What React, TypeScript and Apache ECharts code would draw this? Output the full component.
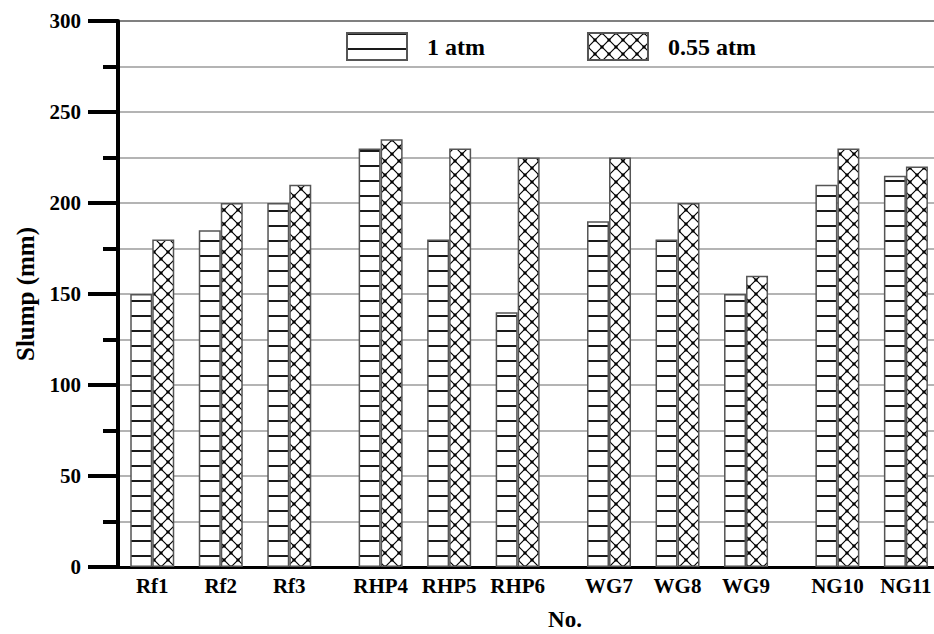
import React, { useEffect, useRef } from "react";
import * as echarts from "echarts";

// ---- data ----
const groups: string[][] = [
  ["Rf1", "Rf2", "Rf3"],
  ["RHP4", "RHP5", "RHP6"],
  ["WG7", "WG8", "WG9"],
  ["NG10", "NG11"],
];
const categories: string[] = groups.flat();
const seriesNames = ["1 atm", "0.55 atm"];
const slump1atm = [150, 185, 200, 230, 180, 140, 190, 180, 150, 210, 215];
const slump055atm = [180, 200, 210, 235, 230, 225, 225, 200, 160, 230, 220];
const yMin = 0;
const yMax = 300;
const yInterval = 50;

// ---- layout helpers ----
const GROUP_GAP = 1 / 3;
const positions: number[] = [];
(() => {
  let p = 1;
  groups.forEach((g) => {
    g.forEach(() => {
      positions.push(p);
      p += 1;
    });
    p += GROUP_GAP;
  });
})();

const FONT = "Liberation Serif";

function hLinePattern() {
  const w = 8;
  const h = 15;
  const c = document.createElement("canvas");
  c.width = w;
  c.height = h;
  const ctx = c.getContext("2d")!;
  ctx.fillStyle = "#ffffff";
  ctx.fillRect(0, 0, w, h);
  ctx.fillStyle = "#1a1a1a";
  ctx.fillRect(0, 0, w, 2);
  return { image: c, repeat: "repeat", imageWidth: w, imageHeight: h };
}

function crossPattern() {
  const s = 14;
  const c = document.createElement("canvas");
  c.width = s;
  c.height = s;
  const ctx = c.getContext("2d")!;
  ctx.fillStyle = "#ffffff";
  ctx.fillRect(0, 0, s, s);
  ctx.strokeStyle = "#000000";
  ctx.lineWidth = 1.2;
  ctx.beginPath();
  ctx.moveTo(0, 0);
  ctx.lineTo(s, s);
  ctx.moveTo(s, 0);
  ctx.lineTo(0, s);
  ctx.stroke();
  ctx.fillStyle = "#000000";
  ctx.fillRect(s / 2 - 1.5, s / 2 - 1.5, 3, 3);
  ctx.fillRect(0, 0, 1.5, 1.5);
  ctx.fillRect(s - 1.5, 0, 1.5, 1.5);
  ctx.fillRect(0, s - 1.5, 1.5, 1.5);
  ctx.fillRect(s - 1.5, s - 1.5, 1.5, 1.5);
  return { image: c, repeat: "repeat", imageWidth: s, imageHeight: s };
}

export default function App() {
  const ref = useRef<HTMLDivElement>(null);

  useEffect(() => {
    if (!ref.current) return;
    const chart = echarts.init(ref.current, undefined, { renderer: "svg" });
    const labelFor = (v: number) => {
      const i = positions.findIndex((p) => Math.abs(p - v) < 1e-6);
      return i >= 0 ? categories[i] : "";
    };
    const gridGray = "#b4b4b4";
    const splitColors = [gridGray, gridGray, gridGray, gridGray, gridGray, gridGray, "#808080"];
    chart.setOption({
      animation: false,
      backgroundColor: "#ffffff",
      grid: {
        left: 118,
        right: 0,
        top: 21,
        bottom: 67,
        containLabel: false,
        outerBoundsMode: "none",
      },
      legend: {
        left: 341,
        top: 27,
        itemWidth: 60,
        itemHeight: 27,
        itemGap: 102,
        icon: "rect",
        data: seriesNames,
        textStyle: {
          fontFamily: FONT,
          fontWeight: "bold",
          fontSize: 24,
          color: "#000",
          padding: [0, 0, 0, 15],
        },
      },
      xAxis: {
        type: "value",
        min: 0.5,
        max: 12.41,
        name: "No.",
        nameLocation: "middle",
        nameGap: 41,
        nameTextStyle: {
          fontFamily: FONT,
          fontWeight: "bold",
          fontSize: 23,
          color: "#000",
          padding: [0, 0, 0, 78],
        },
        axisLine: { show: true, onZero: false, lineStyle: { color: "#000", width: 3 } },
        axisTick: { show: false },
        splitLine: { show: false },
        axisLabel: {
          customValues: positions,
          formatter: (v: number) => labelFor(v),
          margin: 8,
          fontFamily: FONT,
          fontWeight: "bold",
          fontSize: 21,
          color: "#000",
        },
      },
      yAxis: {
        type: "value",
        min: yMin,
        max: yMax,
        interval: yInterval,
        name: "Slump (mm)",
        nameLocation: "middle",
        nameRotate: 90,
        nameGap: 80,
        nameTextStyle: { fontFamily: FONT, fontWeight: "bold", fontSize: 25, color: "#000" },
        axisLine: { show: true, lineStyle: { color: "#000", width: 4 } },
        axisTick: { show: true, inside: false, length: 30, lineStyle: { color: "#000", width: 4 } },
        minorTick: { show: true, splitNumber: 2, length: 15, lineStyle: { color: "#000", width: 4 } },
        splitLine: { show: true, lineStyle: { color: splitColors, width: 2 } },
        minorSplitLine: { show: true, lineStyle: { color: gridGray, width: 2 } },
        axisLabel: {
          margin: 37,
          fontFamily: FONT,
          fontWeight: "bold",
          fontSize: 21,
          color: "#000",
        },
      },
      series: [
        {
          type: "bar",
          name: seriesNames[0],
          data: positions.map((x, i) => [x, slump1atm[i]]),
          barWidth: 22,
          barGap: "0%",
          itemStyle: { color: hLinePattern(), borderColor: "#555", borderWidth: 1.5 },
        },
        {
          type: "bar",
          name: seriesNames[1],
          data: positions.map((x, i) => [x, slump055atm[i]]),
          barWidth: 22,
          barGap: "0%",
          itemStyle: { color: crossPattern(), borderColor: "#555", borderWidth: 1.5 },
        },
      ],
    });
    return () => chart.dispose();
  }, []);

  return (
    <div
      ref={ref}
      style={{ position: "fixed", left: 0, top: 0, width: 934, height: 634 }}
    />
  );
}
